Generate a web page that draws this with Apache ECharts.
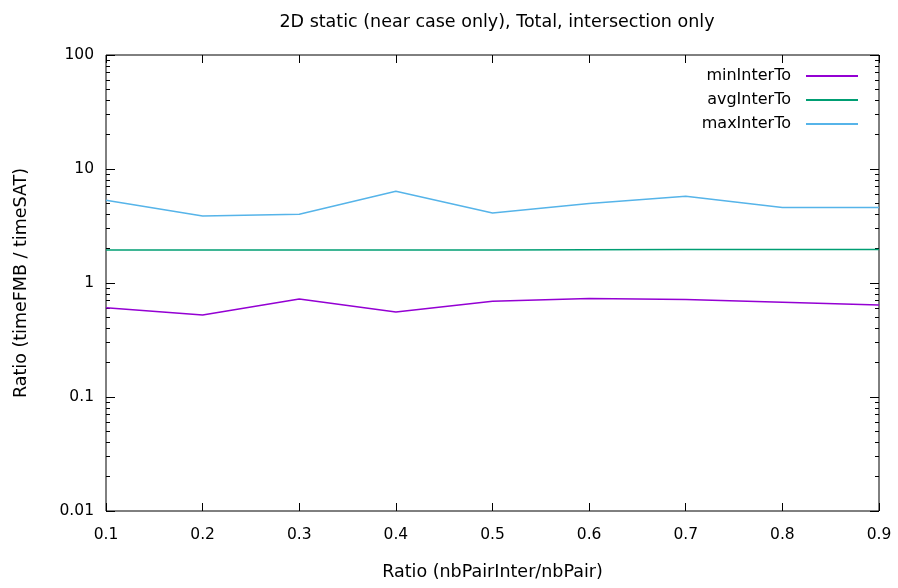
<!DOCTYPE html>
<html><head><meta charset="utf-8">
<script src="https://cdn.jsdelivr.net/npm/echarts@6/dist/echarts.min.js"></script>
<style>html,body{margin:0;padding:0;background:#fff}#c{width:898px;height:588px}</style>
</head><body><div id="c"></div>
<script>
const ratios = [0.1,0.2,0.3,0.4,0.5,0.6,0.7,0.8,0.9];
const minInterTo = [0.608,0.524,0.724,0.557,0.691,0.730,0.715,0.677,0.642];
const avgInterTo = [1.947,1.947,1.948,1.948,1.950,1.955,1.965,1.970,1.972];
const maxInterTo = [5.31,3.87,4.01,6.37,4.11,4.97,5.76,4.59,4.59];
const seriesNames = ['minInterTo','avgInterTo','maxInterTo'];
const colors = ['#9400d3','#009e73','#56b4e9'];
const FONT = '"DejaVu Sans", sans-serif';
const chart = echarts.init(document.getElementById('c'));
const pair = (ys) => ratios.map((x,i)=>[x,ys[i]]);
const ya = (pos, labels) => ({
  type:'log', logBase:10, min:0.01, max:100, position:pos,
  axisLine:{show:false},
  axisTick:{show:true, inside:true, length:9, lineStyle:{color:'#000'}},
  minorTick:{show:true, splitNumber:9, length:4, lineStyle:{color:'#000'}},
  splitLine:{show:false}, minorSplitLine:{show:false},
  axisLabel:{show:labels, color:'#000', fontSize:15.5, fontFamily:FONT, margin:12,
    formatter:(v)=>String(v)},
  name: labels ? 'Ratio (timeFMB / timeSAT)' : '', nameLocation:'middle', nameGap:76,
  nameTextStyle:{color:'#000', fontSize:17.5, fontFamily:FONT}
});
const xa = (pos, labels) => ({
  type:'value', min:0.1, max:0.9, interval:0.1, position:pos,
  axisLine:{show:false},
  axisTick:{show:true, inside:true, length:8, lineStyle:{color:'#000'}},
  splitLine:{show:false},
  axisLabel:{show:labels, color:'#000', fontSize:15.5, fontFamily:FONT, margin:16,
    formatter:(v)=>(Math.round(v*10)/10).toFixed(1)},
  name: labels ? 'Ratio (nbPairInter/nbPair)' : '', nameLocation:'middle', nameGap:52,
  nameTextStyle:{color:'#000', fontSize:17.5, fontFamily:FONT}
});
chart.setOption({
  animation:false,
  backgroundColor:'#fff',
  title:{text:'2D static (near case only), Total, intersection only', left:492, textAlign:'center', top:8,
    textStyle:{color:'#000', fontSize:17.5, fontWeight:'normal', fontFamily:FONT}},
  grid:{left:106, right:19, top:55, bottom:77, show:true, borderColor:'#000', borderWidth:1, backgroundColor:'transparent'},
  legend:{orient:'vertical', right:40, top:68, padding:0, align:'right', itemWidth:52, itemHeight:2, itemGap:8,
    icon:'rect', textStyle:{color:'#000', fontSize:16, fontFamily:FONT, padding:[0,10,0,0]}, itemStyle:{borderWidth:0},
    data:seriesNames},
  xAxis:[xa('bottom',true), xa('top',false)],
  yAxis:[ya('left',true), ya('right',false)],
  series:[minInterTo,avgInterTo,maxInterTo].map((d,i)=>({
    name:seriesNames[i], type:'line', data:pair(d), showSymbol:false, symbol:'none',
    color:colors[i], lineStyle:{width:1.5, color:colors[i]}, xAxisIndex:0, yAxisIndex:0
  }))
});
</script></body></html>
